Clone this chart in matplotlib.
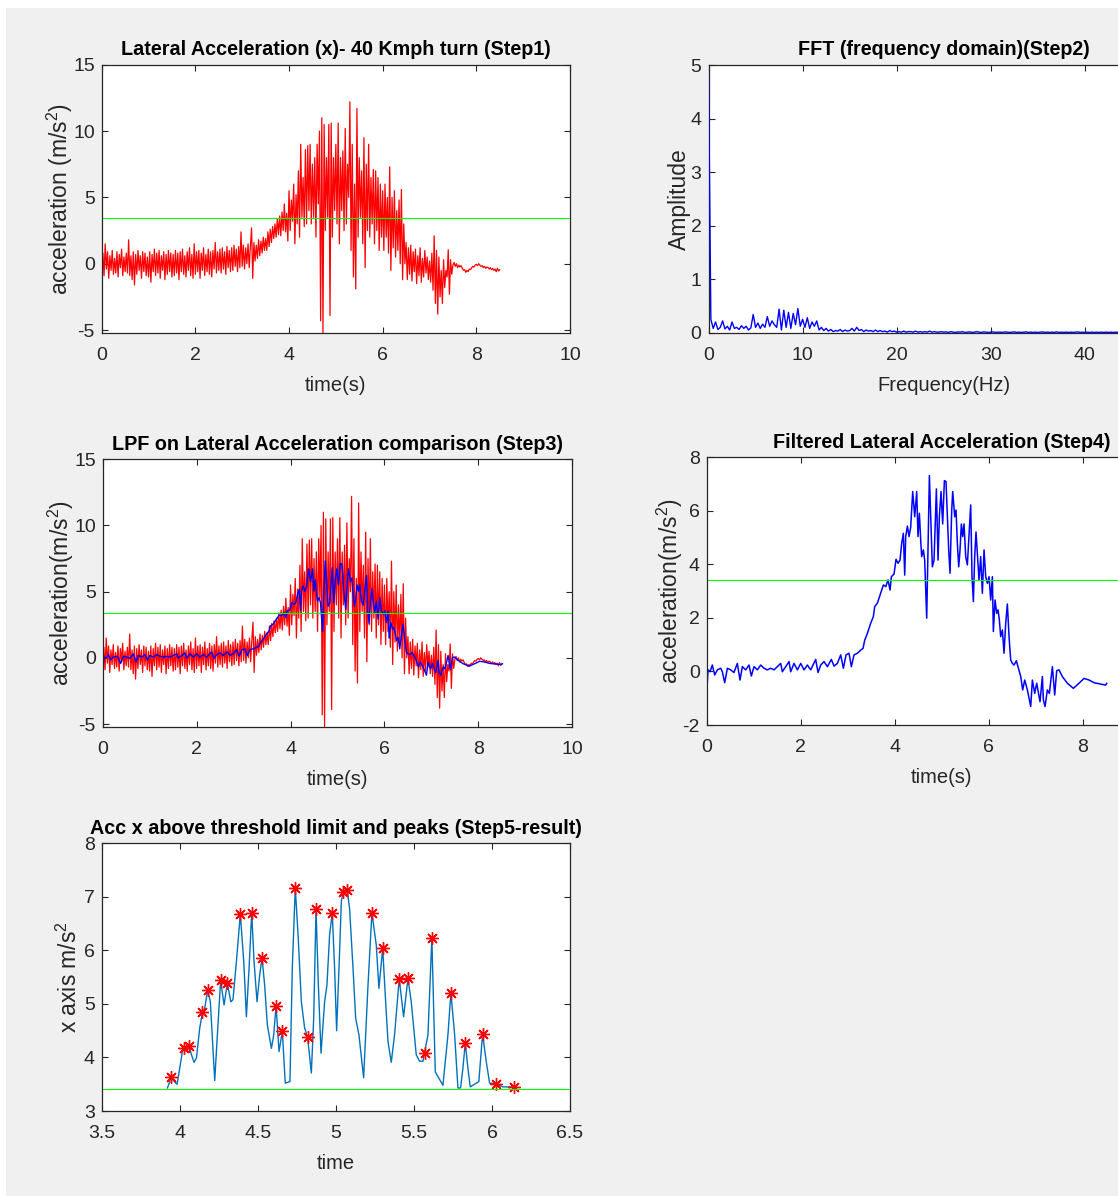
import numpy as np
import matplotlib
matplotlib.use("Agg")
import matplotlib.pyplot as plt
from matplotlib.patches import Rectangle
from matplotlib.ticker import FormatStrFormatter

plt.rcParams['font.family'] = ['Liberation Sans', 'DejaVu Sans']
plt.rcParams['mathtext.default'] = 'regular'
plt.rcParams['axes.unicode_minus'] = False

# ---------------- data ----------------
threshold = 3.42

# raw lateral acceleration (m/s^2), sampled uniformly over 0..8.5 s
raw_acc = [
    -0.6, 0.8, -0.9, 1.5, -0.4, 0.9, -1.1, 0.6, -0.5, 1.0, -0.8, 0.4, -0.7, 0.9, -1.0, 0.7, -0.3, 1.1, -0.9, 0.5,
    -0.6, 0.8, -0.7, 1.8, -0.9, 0.6, -1.2, 0.9, -1.6, 0.7, -0.8, 1.0, -0.5, 0.6, -1.1, 0.9, -0.6, 0.8, -0.9, 0.5,
    -1.0, 0.9, -1.4, 0.7, -0.6, 1.1, -0.9, 0.8, -0.7, 1.0, -1.1, 0.6, -0.5, 0.9, -1.2, 0.7, -0.8, 1.0, -0.6, 0.8,
    -1.0, 0.7, -0.9, 1.0, -0.7, 0.8, -1.2, 0.9, -0.6, 1.1, -0.8, 0.6, -1.0, 0.9, -0.5, 1.2, -0.9, 0.7, -1.1, 1.5,
    -0.8, 0.9, -0.6, 1.0, -1.1, 0.8, -0.5, 1.2, -0.9, 0.7, -0.6, 1.1, -0.8, 0.9, -1.0, 1.0, -0.4, 1.6, -0.7, 0.9,
    -0.5, 1.1, -0.7, 1.2, -0.4, 0.9, -0.8, 1.3, -0.3, 1.0, -0.6, 1.2, -0.5, 1.4, -0.2, 1.1, -0.6, 1.3, -0.3, 2.4,
    -0.2, 1.4, -0.4, 1.2, 0.0, 1.5, -0.3, 1.3, 2.7, -1.1, 1.6, 0.2, 1.4, 0.4, 1.8, 0.6, 1.7, 0.8, 2.0, 1.0,
    1.9, 1.0, 2.4, 1.3, 2.6, 1.6, 2.8, 1.9, 3.0, 2.0, 3.4, 2.2, 3.6, 2.1, 3.9, 2.5, 4.5, 2.4, 3.8, 1.7,
    5.5, 2.5, 4.8, 3.2, 6.0, 1.5, 5.2, 3.0, 7.0, 2.0, 9.0, 3.5, 6.5, 2.8, 8.6, 3.0, 8.9, 4.0, 9.0, 3.0,
    7.5, 3.5, 8.0, 2.0, 9.0, 4.5, 10.0, -4.3, 11.0, -5.2, 10.5, 2.5, 8.0, 3.5, 10.5, -3.9, 10.6, 2.0, 8.0, 4.0,
    9.0, 3.0, 10.6, 1.5, 8.0, 4.0, 8.5, 2.5, 10.2, 3.0, 7.5, 5.0, 12.2, 1.0, 9.0, -1.0, 6.0, -1.9, 11.7, 2.0,
    8.0, 3.5, 7.0, 1.5, 9.5, -0.3, 7.5, 2.5, 9.0, 2.0, 6.5, 3.0, 7.1, 1.5, 7.0, 2.5, 6.5, 1.0, 6.0, 2.0,
    5.5, 1.0, 6.0, 2.0, 5.0, 0.8, 7.3, -0.5, 5.0, 1.2, 5.5, 0.5, 4.0, 1.0, 4.8, 0.0, 5.6, -1.2, 3.0, 0.0,
    1.6, -1.2, 1.2, -0.8, 1.4, -1.3, 0.9, -0.6, 1.1, -1.5, 0.6, -0.9, 1.2, -1.4, 0.4, -1.0, 1.0, -0.7, 0.5, -1.2,
    0.2, -1.4, 0.8, -2.0, 2.1, -3.0, 1.0, -3.8, 0.5, -2.5, -0.5, -3.0, 0.3, -1.8, -0.5, -1.0, 1.05, -2.3, 0.3, -0.8,
    -0.1, 0.1, -0.2, 0.0, -0.3, -0.1, -0.25, -0.15, -0.35, -0.5, -0.45, -0.65, -0.5, -0.6, -0.4, -0.45, -0.3, -0.2, -0.25, -0.1,
    -0.05, -0.15, 0.0, -0.1, -0.2, -0.15, -0.3, -0.2, -0.35, -0.25, -0.3, -0.4, -0.3, -0.45, -0.35, -0.5, -0.4, -0.6, -0.35, -0.55,
    -0.45,
]
raw_duration = 8.5

# low-pass filtered signal
filt_t = [0, 0.028, 0.071, 0.12, 0.17, 0.227, 0.298, 0.333, 0.383, 0.44, 0.51, 0.58, 0.652, 0.709, 0.759, 0.83,
          0.90, 0.95, 1.007, 1.078, 1.149, 1.22, 1.29, 1.362, 1.433, 1.504, 1.574, 1.61, 1.681, 1.752, 1.787,
          1.858, 1.929, 2.0, 2.071, 2.142, 2.213, 2.319, 2.369, 2.426, 2.496, 2.567, 2.652, 2.709, 2.78, 2.851,
          2.908, 2.965, 3.028, 3.078, 3.135, 3.206, 3.277, 3.326, 3.362, 3.418, 3.489, 3.546, 3.574, 3.631, 3.702,
          3.759, 3.809, 3.858, 3.901, 3.929, 3.986, 4.028, 4.071, 4.113, 4.149, 4.184, 4.213, 4.234, 4.27, 4.305,
          4.34, 4.383, 4.426, 4.468, 4.496, 4.525, 4.553, 4.574, 4.61, 4.638, 4.681, 4.709, 4.738, 4.766, 4.801,
          4.837, 4.887, 4.922, 4.95, 4.986, 5.021, 5.057, 5.092, 5.121, 5.149, 5.177, 5.213, 5.234, 5.277, 5.305,
          5.333, 5.362, 5.39, 5.418, 5.447, 5.475, 5.511, 5.546, 5.617, 5.645, 5.674, 5.702, 5.73, 5.759, 5.794,
          5.83, 5.865, 5.901, 5.936, 5.972, 6.007, 6.043, 6.078, 6.099, 6.135, 6.17, 6.199, 6.227, 6.255, 6.291,
          6.326, 6.362, 6.397, 6.433, 6.468, 6.504, 6.539, 6.589, 6.624, 6.681, 6.723, 6.766, 6.823, 6.894, 6.929,
          6.979, 7.021, 7.071, 7.092, 7.142, 7.163, 7.199, 7.248, 7.291, 7.355, 7.404, 7.447, 7.496, 7.567, 7.674,
          7.801, 7.922, 8.028, 8.135, 8.241, 8.383, 8.489, 8.511]
filt_v = [-0.82, 0.06, -0.01, 0.24, -0.13, 0.06, 0.12, -0.01, -0.42, 0.12, 0.06, -0.04, 0.30, -0.32, 0.18, 0.06,
          0.24, -0.17, 0.18, 0.06, 0.24, 0.12, 0.06, 0.12, 0.06, 0.18, 0.30, -0.01, 0.18, 0.37, -0.01,
          0.30, 0.06, 0.30, 0.06, 0.24, 0.06, 0.45, -0.04, 0.24, 0.37, 0.18, 0.45, 0.20, 0.30, 0.62,
          0.12, 0.62, 0.68, 0.18, 0.62, 0.68, 0.80, 0.86, 1.17, 1.42, 1.80, 2.05, 2.42, 2.55, 2.92,
          3.23, 3.17, 3.42, 3.04, 3.54, 3.64, 4.19, 4.04, 4.16, 4.79, 5.16, 3.60, 5.04, 5.43, 5.04,
          5.38, 6.72, 5.78, 6.72, 5.04, 5.91, 4.91, 4.29, 4.54, 4.16, 1.99, 4.54, 7.32, 5.78, 3.91,
          4.16, 6.82, 4.16, 5.78, 6.72, 5.51, 7.13, 7.09, 5.78, 4.54, 3.67, 6.03, 6.72, 5.78, 6.03,
          4.79, 3.91, 4.54, 5.51, 5.04, 5.51, 4.29, 3.98, 6.22, 3.54, 2.61, 4.29, 5.21, 4.41, 3.42,
          4.29, 2.92, 4.54, 3.54, 3.29, 3.54, 2.67, 3.54, 1.49, 2.67, 2.17, 2.30, 1.92, 1.30, 1.55,
          0.68, 1.80, 2.52, 1.30, 0.43, 0.30, 0.24, 0.40, 0.18, -0.19, -0.69, -0.32, -0.69, -1.31, -0.32,
          -0.82, -0.44, -0.94, -1.13, -0.19, -1.06, -1.31, -0.69, -0.82, 0.18, -0.88, 0.03, 0.06, -0.19, -0.44,
          -0.63, -0.44, -0.26, -0.32, -0.42, -0.47, -0.51, -0.44]

# FFT amplitude, 0.25 Hz bins from 0 to 50 Hz
fft_amp = [
    4.9, 0.25, 0.08, 0.2, 0.06, 0.1, 0.22, 0.07, 0.12, 0.05, 0.2, 0.08, 0.1, 0.06, 0.13, 0.08, 0.12, 0.05, 0.09, 0.34,
    0.1, 0.18, 0.08, 0.16, 0.1, 0.3, 0.12, 0.22, 0.15, 0.1, 0.44, 0.05, 0.42, 0.1, 0.38, 0.08, 0.36, 0.15, 0.45, 0.12,
    0.25, 0.1, 0.28, 0.08, 0.2, 0.12, 0.22, 0.05, 0.1, 0.04, 0.08, 0.03, 0.06, 0.02, 0.04, 0.03, 0.06, 0.02, 0.05, 0.03,
    0.04, 0.08, 0.03, 0.1, 0.04, 0.06, 0.02, 0.05, 0.03, 0.04, 0.02, 0.05, 0.02, 0.04, 0.02, 0.03, 0.01, 0.04, 0.02, 0.03,
    0.01, 0.02, 0.01, 0.03, 0.01, 0.02, 0.02, 0.01, 0.03, 0.01, 0.02, 0.01, 0.02, 0.01, 0.03, 0.01, 0.02, 0.01, 0.01, 0.02,
    0.01, 0.015, 0.005, 0.02, 0.01, 0.005, 0.015, 0.01, 0.02, 0.005, 0.01, 0.015, 0.005, 0.01, 0.02, 0.01, 0.005, 0.015, 0.01, 0.005,
    0.01, 0.015, 0.005, 0.01, 0.01, 0.005, 0.015, 0.01, 0.005, 0.01, 0.015, 0.005, 0.01, 0.005, 0.01, 0.015, 0.005, 0.01, 0.005, 0.01,
    0.005, 0.01, 0.015, 0.005, 0.01, 0.005, 0.01, 0.005, 0.015, 0.005, 0.01, 0.005, 0.01, 0.005, 0.01, 0.005, 0.01, 0.015, 0.005, 0.01,
    0.005, 0.01, 0.005, 0.01, 0.005, 0.01, 0.005, 0.01, 0.005, 0.01, 0.005, 0.01, 0.005, 0.01, 0.005, 0.01, 0.005, 0.01, 0.005, 0.01,
    0.005, 0.01, 0.005, 0.01, 0.005, 0.01, 0.005, 0.01, 0.005, 0.01, 0.005, 0.01, 0.005, 0.01, 0.005, 0.01, 0.005, 0.01, 0.005, 0.01,
    0.005,
]
fft_bin_hz = 0.25

# Step 5: filtered samples above threshold
above_t = [3.921, 3.936, 3.942, 3.968, 3.983, 4.017, 4.028, 4.043, 4.060, 4.075, 4.092, 4.107, 4.128, 4.145, 4.160,
           4.179, 4.196, 4.224, 4.241, 4.262, 4.284, 4.305, 4.327, 4.341, 4.363, 4.388, 4.410, 4.427, 4.444, 4.461,
           4.476, 4.495, 4.512, 4.527, 4.544, 4.561, 4.587, 4.602, 4.617, 4.636, 4.657, 4.676, 4.706, 4.721, 4.740,
           4.758, 4.779, 4.800, 4.819, 4.843, 4.858, 4.873, 4.888, 4.905, 4.928, 4.943, 4.960, 4.977, 4.992, 5.005,
           5.024, 5.035, 5.046, 5.073, 5.088, 5.110, 5.127, 5.148, 5.178, 5.206, 5.231, 5.259, 5.276, 5.300, 5.319,
           5.334, 5.355, 5.376, 5.406, 5.434, 5.462, 5.483, 5.515, 5.536, 5.558, 5.568, 5.590, 5.615, 5.637, 5.686,
           5.718, 5.737, 5.761, 5.782, 5.799, 5.814, 5.829, 5.846, 5.861, 5.916, 5.940, 5.963, 5.985, 6.025, 6.070,
           6.143, 6.155]
above_v = [3.43, 3.55, 3.63, 3.54, 3.50, 4.11, 4.17, 4.14, 4.22, 4.05, 3.91, 3.99, 4.55, 4.84, 4.92,
           5.26, 5.04, 3.57, 4.42, 5.44, 4.98, 5.39, 5.04, 5.08, 5.79, 6.68, 5.79, 4.76, 5.67, 6.70,
           5.79, 5.04, 5.54, 5.86, 5.35, 4.61, 4.17, 4.42, 4.97, 4.11, 4.49, 3.52, 3.55, 5.67, 7.17,
           6.29, 5.04, 4.55, 4.38, 3.71, 4.73, 6.77, 5.35, 4.08, 5.04, 5.35, 6.29, 6.70, 5.67, 4.50,
           5.98, 6.91, 7.09, 7.12, 6.78, 5.67, 4.73, 4.42, 3.62, 5.35, 6.70, 6.10, 5.29, 6.04, 5.04,
           4.30, 3.91, 4.42, 5.47, 4.76, 5.48, 5.04, 4.05, 3.93, 3.93, 4.09, 4.42, 6.23, 3.73, 3.48,
           4.42, 5.21, 4.42, 3.43, 3.43, 3.80, 4.27, 3.80, 3.45, 3.55, 4.44, 3.93, 3.52, 3.51, 3.45,
           3.45, 3.45]

peak_t = [3.942, 4.028, 4.060, 4.145, 4.179, 4.262, 4.305, 4.388, 4.461, 4.527, 4.617, 4.657, 4.740, 4.819, 4.873,
          4.977, 5.046, 5.073, 5.231, 5.300, 5.406, 5.462, 5.568, 5.615, 5.737, 5.829, 5.940, 6.025, 6.143]
peak_v = [3.63, 4.17, 4.22, 4.84, 5.26, 5.44, 5.39, 6.68, 6.70, 5.86, 4.97, 4.49, 7.17, 4.38, 6.77,
          6.70, 7.09, 7.12, 6.70, 6.04, 5.47, 5.48, 4.09, 6.23, 5.21, 4.27, 4.44, 3.51, 3.45]

# ---------------- style ----------------
W, H = 1118, 1196
fig = plt.figure(figsize=(W / 100, H / 100), dpi=100, facecolor='white')
fig.patches.append(Rectangle((6 / W, 0), 1, 1 - 8 / H, transform=fig.transFigure,
                             facecolor='#f0f0f0', edgecolor='none', zorder=-10))

AX_COL = '#262626'
TICK_FS = 14
XLAB_FS = 14.5
YLAB_FS = 16.5
TITLE_FS = 14.2
RED = '#ff0000'
BLUE = '#0000ff'
GREEN = '#00ff00'


def make_ax(px_left, px_top, px_right, px_bottom):
    ax = fig.add_axes([px_left / W, 1 - px_bottom / H, (px_right - px_left) / W, (px_bottom - px_top) / H])
    ax.set_facecolor('white')
    for s in ax.spines.values():
        s.set_color(AX_COL)
        s.set_linewidth(0.9)
    ax.tick_params(direction='in', top=True, right=True, length=4, width=0.8,
                   colors=AX_COL, labelsize=TICK_FS)
    ax.tick_params(axis='x', pad=10)
    ax.tick_params(axis='y', pad=5)
    return ax


def style_text(ax, title, xlabel, ylabel, ypad=1):
    ax.set_title(title, fontsize=TITLE_FS, fontweight='bold', color='black', pad=7)
    ax.set_xlabel(xlabel, fontsize=XLAB_FS, color=AX_COL, labelpad=9)
    ax.set_ylabel(ylabel, fontsize=YLAB_FS, color=AX_COL, labelpad=ypad)


raw_t = np.linspace(0, raw_duration, len(raw_acc))
fft_f = np.arange(len(fft_amp)) * fft_bin_hz

# Step 1
ax1 = make_ax(101.7, 64.7, 570, 332.7)
ax1.plot(raw_t, raw_acc, color=RED, lw=0.9)
ax1.axhline(threshold, color=GREEN, lw=0.8)
ax1.set_xlim(0, 10)
ax1.set_ylim(-5.2, 15)
ax1.set_xticks([0, 2, 4, 6, 8, 10])
ax1.set_yticks([-5, 0, 5, 10, 15])
style_text(ax1, 'Lateral Acceleration (x)- 40 Kmph turn (Step1)', 'time(s)', 'acceleration (m/s$^2$)', ypad=-1.5)

# Step 2
ax2 = make_ax(708.5, 65, 1179, 332.7)
ax2.plot(fft_f, fft_amp, color=BLUE, lw=1.0, zorder=3)
ax2.set_xlim(0, 50)
ax2.set_ylim(0, 5)
ax2.set_xticks([0, 10, 20, 30, 40])
ax2.set_yticks([0, 1, 2, 3, 4, 5])
style_text(ax2, 'FFT (frequency domain)(Step2)', 'Frequency(Hz)', 'Amplitude', ypad=0)

# Step 3
ax3 = make_ax(102.7, 459.3, 572.3, 726.7)
ax3.plot(raw_t, raw_acc, color=RED, lw=0.9)
ax3.plot(filt_t, filt_v, color=BLUE, lw=1.0)
ax3.axhline(threshold, color=GREEN, lw=0.8)
ax3.set_xlim(0, 10)
ax3.set_ylim(-5.2, 15)
ax3.set_xticks([0, 2, 4, 6, 8, 10])
ax3.set_yticks([-5, 0, 5, 10, 15])
style_text(ax3, 'LPF on Lateral Acceleration comparison (Step3)', 'time(s)', 'acceleration(m/s$^2$)', ypad=-1.5)

# Step 4
ax4 = make_ax(706.7, 457.3, 1176.7, 725)
ax4.plot(filt_t, filt_v, color=BLUE, lw=1.1)
ax4.axhline(threshold, color=GREEN, lw=0.8)
ax4.set_xlim(0, 10)
ax4.set_ylim(-2, 8)
ax4.set_xticks([0, 2, 4, 6, 8])
ax4.set_yticks([-2, 0, 2, 4, 6, 8])
style_text(ax4, 'Filtered Lateral Acceleration (Step4)', 'time(s)', 'acceleration(m/s$^2$)', ypad=-2)

# Step 5
ax5 = make_ax(101.7, 843.3, 570, 1111)
ax5.plot(above_t, above_v, color='#0072BD', lw=1.0)
ax5.plot(peak_t, peak_v, linestyle='none', marker=(8, 2, 0), markersize=9,
         markeredgecolor=RED, markeredgewidth=1.0, color=RED)
ax5.axhline(threshold, color=GREEN, lw=0.8)
ax5.set_xlim(3.5, 6.5)
ax5.set_ylim(3, 8)
ax5.set_xticks([3.5, 4, 4.5, 5, 5.5, 6, 6.5])
ax5.set_yticks([3, 4, 5, 6, 7, 8])
ax5.xaxis.set_major_formatter(FormatStrFormatter('%g'))
ax5.yaxis.set_major_formatter(FormatStrFormatter('%g'))
style_text(ax5, 'Acc x above threshold limit and peaks (Step5-result)', 'time', 'x axis m/s$^2$', ypad=1.5)

fig.savefig('out.png', dpi=100, facecolor=fig.get_facecolor())
